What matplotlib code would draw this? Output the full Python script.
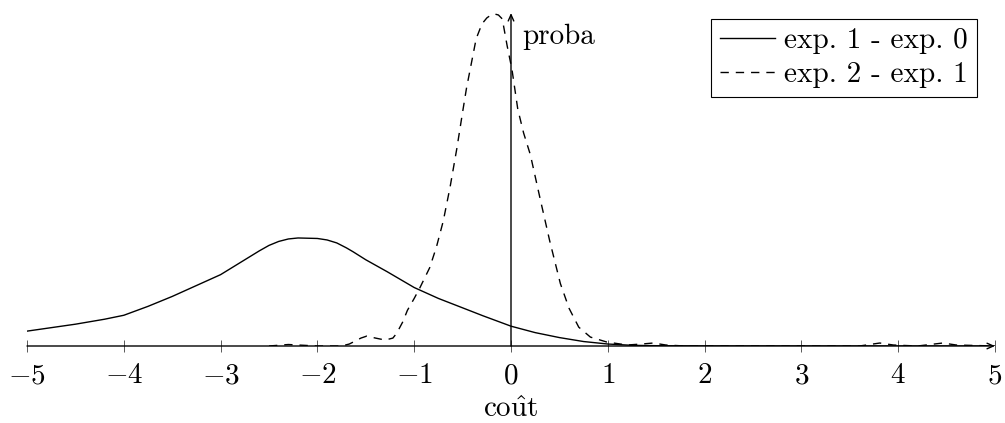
import matplotlib
matplotlib.use('Agg')
import matplotlib.pyplot as plt

plt.rcParams['font.family'] = ['cmr10', 'DejaVu Serif']
plt.rcParams['mathtext.fontset'] = 'cm'
plt.rcParams['axes.unicode_minus'] = False

# difference distributions (arbitrary density units)
x_exp10 = [-5.0, -4.5, -4.2, -4.0, -3.75, -3.5, -3.25, -3.0, -2.75, -2.6, -2.5,
           -2.4, -2.3, -2.2, -2.0, -1.9, -1.8, -1.7, -1.63, -1.5, -1.28, -1.0,
           -0.75, -0.5, -0.29, 0.0, 0.25, 0.5, 0.75, 1.0, 1.25, 1.5, 2.0, 3.0,
           4.0, 5.0]
y_exp10 = [0.15, 0.22, 0.27, 0.31, 0.40, 0.50, 0.61, 0.72, 0.87, 0.96, 1.015,
           1.055, 1.08, 1.09, 1.085, 1.07, 1.04, 0.99, 0.95, 0.87, 0.75, 0.59,
           0.48, 0.385, 0.305, 0.20, 0.135, 0.085, 0.045, 0.02, 0.007, 0.003,
           0.001, 0.0005, 0.0002, 0.0]

x_exp21 = [-2.5, -2.3, -2.1, -2.0, -1.75, -1.67, -1.55, -1.49, -1.4, -1.3, -1.22,
           -1.18, -1.12, -1.07, -1.0, -0.94, -0.84, -0.77, -0.7, -0.63, -0.56,
           -0.5, -0.46, -0.41, -0.36, -0.3, -0.25, -0.2, -0.17, -0.13, -0.09,
           -0.04, 0.01, 0.07, 0.13, 0.2, 0.3, 0.4, 0.51, 0.6, 0.7, 0.82, 0.99,
           1.2, 1.35, 1.47, 1.6, 1.8, 2.5, 3.6, 3.81, 3.95, 4.2, 4.46, 4.6, 5.0]
y_exp21 = [0.0, 0.015, 0.005, 0.0, 0.0, 0.02, 0.08, 0.10, 0.08, 0.06, 0.08,
           0.13, 0.24, 0.36, 0.48, 0.59, 0.79, 1.0, 1.26, 1.6, 1.99,
           2.36, 2.6, 2.85, 3.1, 3.25, 3.31, 3.345, 3.35, 3.34, 3.3,
           3.03, 2.79, 2.39, 2.15, 1.93, 1.49, 1.06, 0.63, 0.38, 0.19, 0.09, 0.04,
           0.01, 0.02, 0.03, 0.01, 0.0, 0.0, 0.0, 0.03, 0.01, 0.0, 0.03, 0.01, 0.0]

xticks = [-5, -4, -3, -2, -1, 0, 1, 2, 3, 4, 5]
xtick_labels = ['$%d$' % t for t in xticks]
labels = ['exp. 1 - exp. 0', 'exp. 2 - exp. 1']

fs = 21
fig = plt.figure(figsize=(10.05, 4.23), dpi=100)
ax = fig.add_axes([27 / 1005, 77 / 423, 968 / 1005, 333 / 423])

ax.plot(x_exp10, y_exp10, color='black', lw=1.0, label=labels[0])
ax.plot(x_exp21, y_exp21, color='black', lw=1.0, dashes=(6, 5), label=labels[1])

ax.set_xlim(-5, 5)
ax.set_ylim(0, 3.36)

for s in ax.spines.values():
    s.set_visible(False)

# axis lines through the origin, with arrows
ax.annotate('', xy=(5.0, 0), xytext=(-5.0, 0),
            arrowprops=dict(arrowstyle='->,head_length=0.45,head_width=0.2', lw=1.0,
                            color='black', shrinkA=0, shrinkB=0))
ax.annotate('', xy=(0, 3.36), xytext=(0, 0),
            arrowprops=dict(arrowstyle='->,head_length=0.45,head_width=0.2', lw=1.0,
                            color='black', shrinkA=0, shrinkB=0))

ax.set_xticks(xticks, labels=xtick_labels, fontsize=fs)
ax.set_yticks([])
ax.tick_params(axis='x', direction='inout', length=8, width=0.7, color='0.35', pad=8)

ax.text(0, -0.715, r'$\mathrm{co\hat{u}t}$', fontsize=fs, ha='center', va='baseline')
ax.text(0.12, 3.05, 'proba', fontsize=fs, ha='left', va='baseline')

leg = ax.legend(loc='upper right', bbox_to_anchor=(0.981, 0.982), borderaxespad=0,
                fontsize=fs, frameon=True, fancybox=False, framealpha=1,
                edgecolor='black', handlelength=1.9, handletextpad=0.3,
                labelspacing=0.25, borderpad=0.3)
leg.get_frame().set_linewidth(0.8)

fig.savefig('out.png', dpi=100)
